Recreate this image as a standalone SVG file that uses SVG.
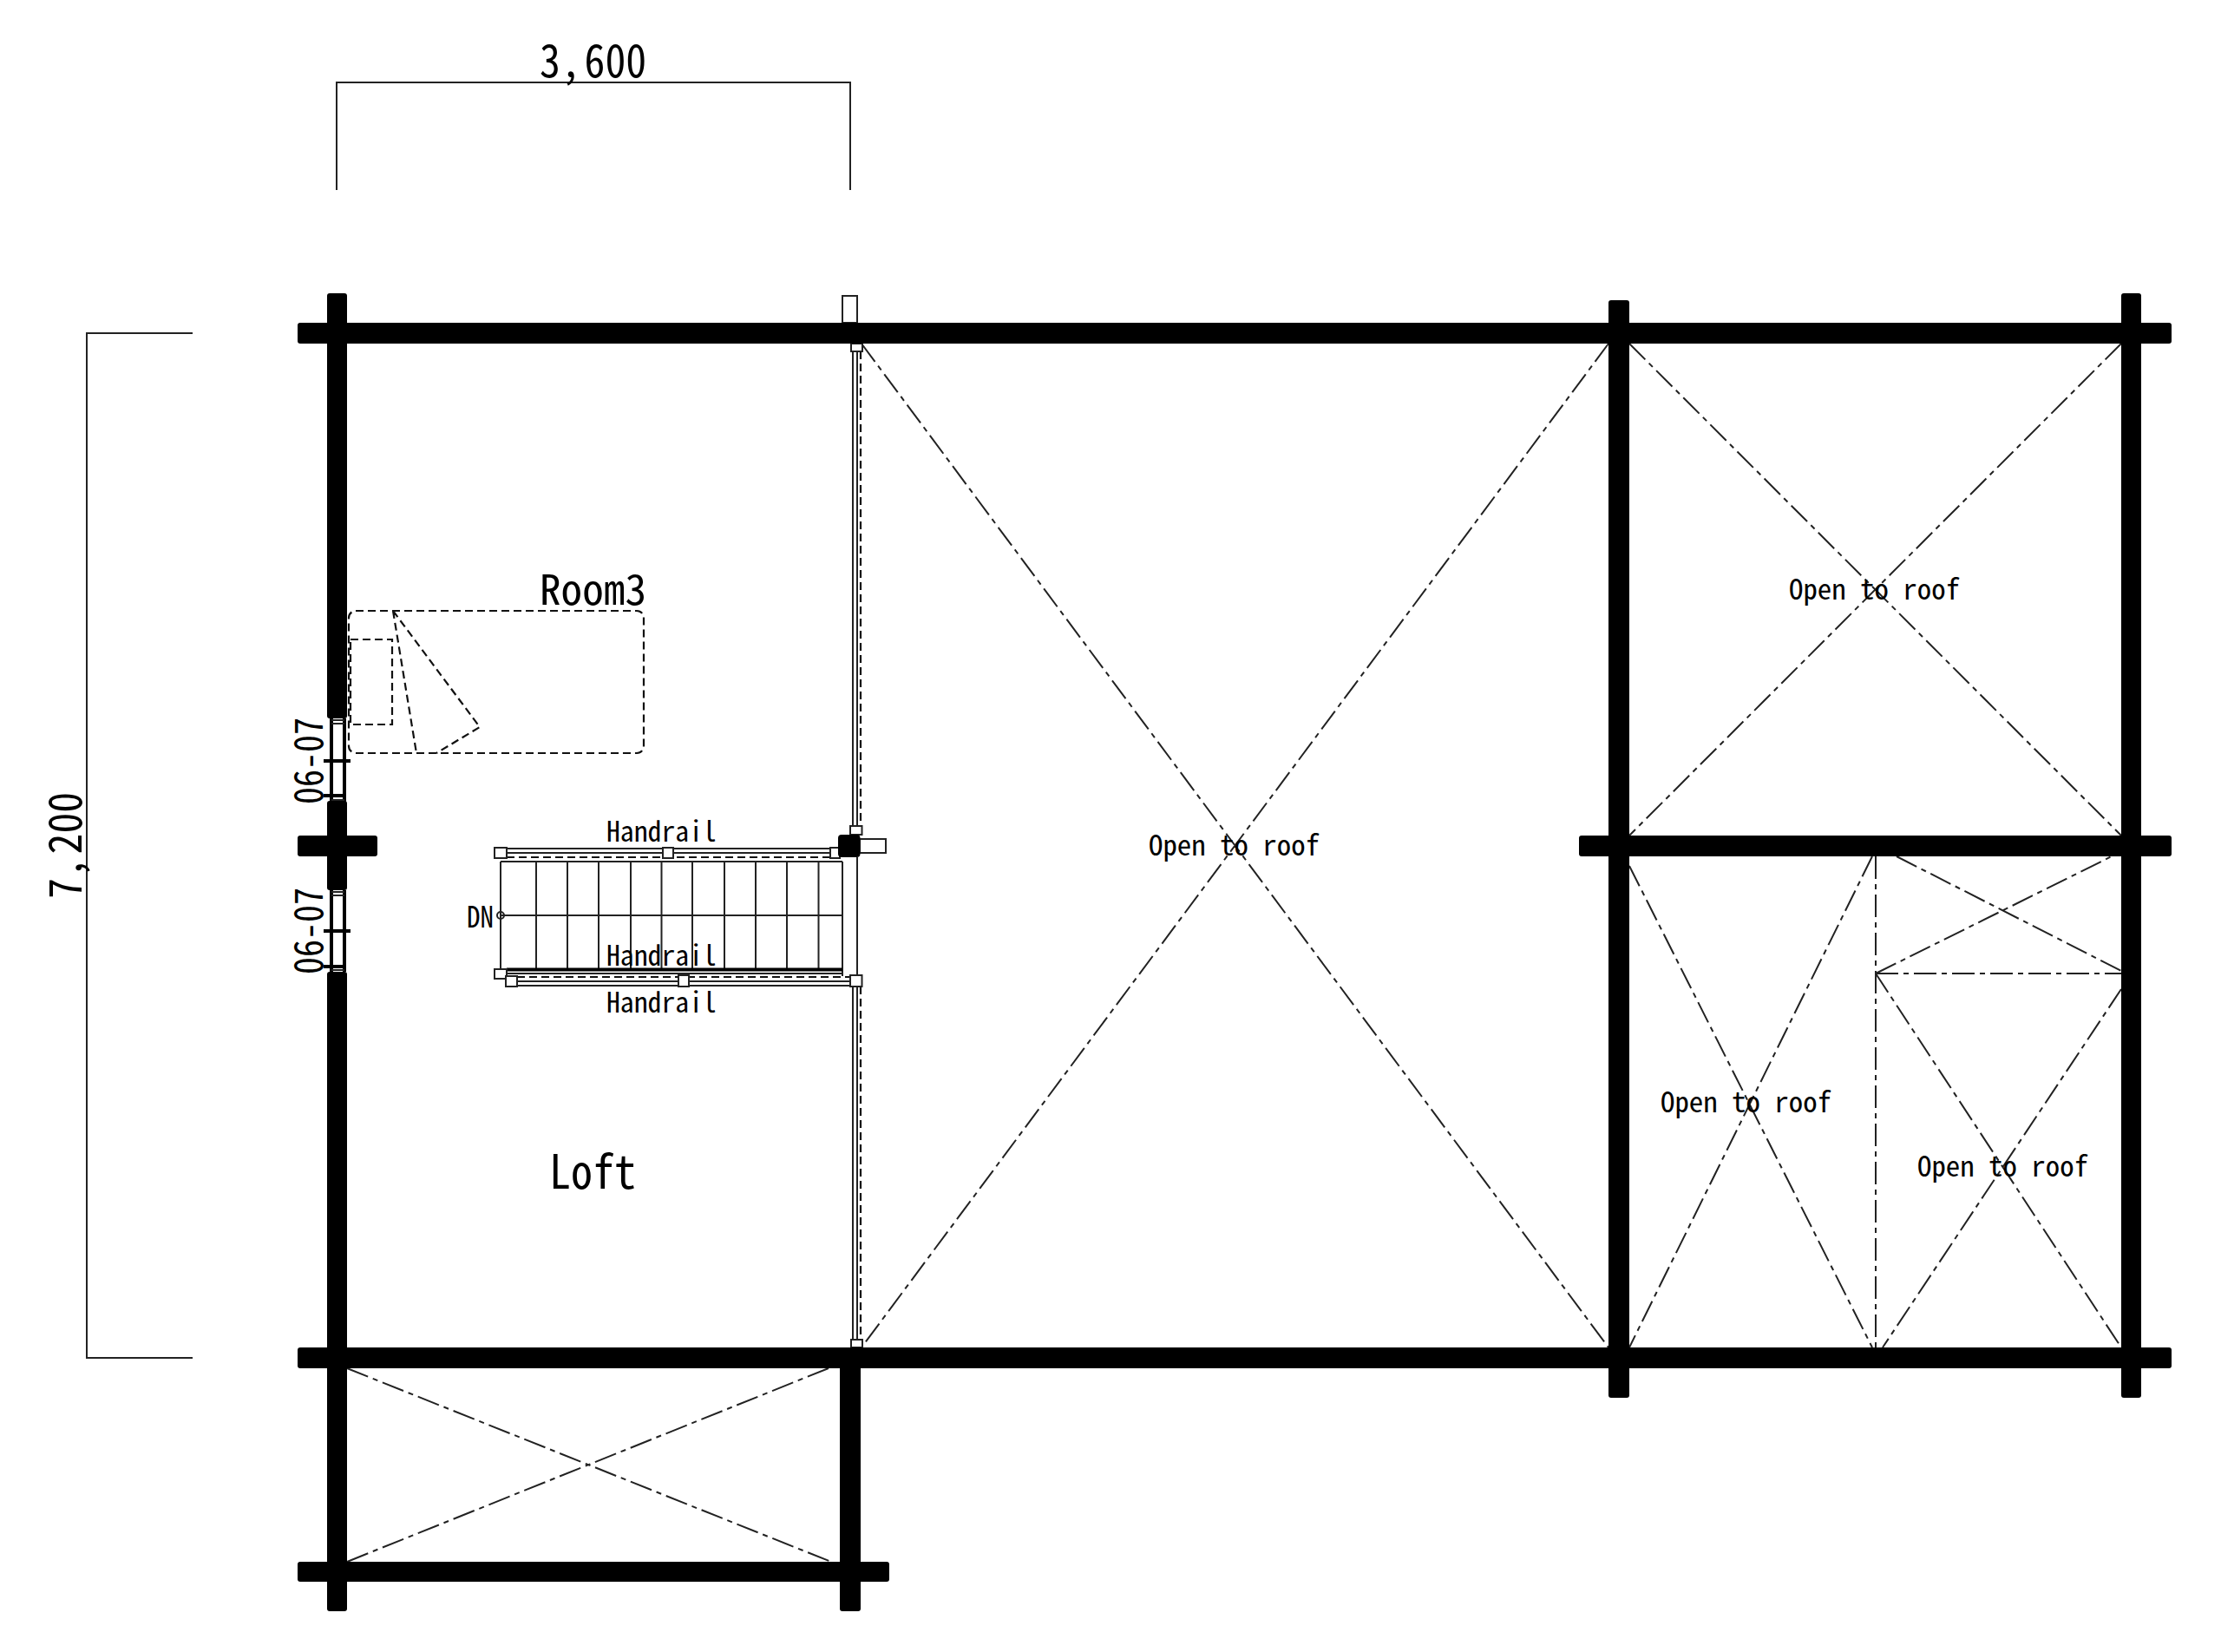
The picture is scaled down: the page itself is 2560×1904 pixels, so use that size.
<svg xmlns="http://www.w3.org/2000/svg" width="2560" height="1904" viewBox="0 0 2560 1904">
<style>
.w{fill:#000}
.t{font-family:"Noto Sans CJK JP","Liberation Mono",monospace;font-feature-settings:"hwid";fill:#000}
.l{stroke:#222;stroke-width:2;fill:none}
.b{stroke:#000;stroke-width:4;fill:none}
.d{stroke:#111;stroke-width:2.200;fill:none;stroke-dasharray:9 5}
.c{stroke:#222;stroke-width:2;fill:none;stroke-dasharray:26 6 6 6}
.p{stroke:#222;stroke-width:2;fill:#fff}
</style>
<rect width="2560" height="1904" fill="#fff"/>
<g id="dimensions" class="l">
<path d="M388 219V95H980V219"/>
<path d="M222 384H100V1565H222"/>
</g>
<g id="centerlines">
<path class="c" d="M993 396L1854 1553M1854 396L993 1553"/>
<path class="c" d="M1878 396L2445 963M2445 396L1878 963"/>
<path class="c" d="M1878 998L2158 1553M2158 987L1878 1553"/>
<path class="c" d="M2162 987V1553M2162 1122H2445"/>
<path class="c" d="M2162 1122L2440 984M2186 987L2445 1119"/>
<path class="c" d="M2162 1122L2445 1553M2445 1140L2170 1553"/>
<path class="c" d="M400 1577L958 1800M955 1577L400 1800"/>
</g>
<g id="bed">
<rect class="d" x="402" y="704" width="340" height="164" rx="8"/>
<rect class="d" x="404" y="737" width="48" height="98"/>
<path class="d" d="M453 704L480 868M453 704L553 838L503 868"/>
</g>
<g id="balcony-rail">
<path class="l" d="M983 405V952M988 405V962M983 1137V1544M988 1137V1544M988 988V1124"/>
<path class="d" d="M992 405V952M992 1137V1544"/>
<rect class="p" x="971" y="341" width="17" height="31"/>
<rect class="p" x="981" y="396" width="13" height="9"/>
<rect class="p" x="981" y="1544" width="13" height="9"/>
</g>
<g id="stairs">
<path class="l" d="M577 993V1117M618 993V1117M654 993V1117M690 993V1117M727 993V1117M762.500 993V1117M798 993V1117M835 993V1117M871 993V1117M907 993V1117M943.500 993V1117M971 993V1125M577 1055H971"/>
<path class="l" d="M577 978H966M577 983H966M577 993H971M584 1122H971M596 1131H985M596 1136H985"/>
<path class="d" d="M584 988H962M596 1126H985"/>
<path class="b" d="M584 1117.500H971"/>
<ellipse class="l" cx="577" cy="1055" rx="4" ry="4"/>
<rect class="p" x="570" y="977" width="14" height="12"/>
<rect class="p" x="764" y="977" width="12" height="12"/>
<rect class="p" x="957" y="977" width="11" height="12"/>
<rect class="p" x="570" y="1117" width="14" height="11"/>
<rect class="p" x="583" y="1125" width="13" height="12"/>
<rect class="p" x="782" y="1124" width="12" height="13"/>
<rect class="p" x="980" y="1124" width="13.500" height="13"/>
<rect class="p" x="980" y="952" width="13.500" height="10"/>
<rect class="p" x="991" y="967" width="30" height="16"/>
<rect class="w" x="966" y="962" width="25.500" height="26" rx="4"/>
</g>
<g id="walls">
<rect class="w" x="343" y="372" width="2160" height="24" rx="3"/>
<rect class="w" x="1820" y="963" width="683" height="24" rx="3"/>
<rect class="w" x="343" y="1553" width="2160" height="24" rx="3"/>
<rect class="w" x="343" y="1800" width="682" height="23" rx="3"/>
<rect class="w" x="343" y="963" width="92" height="24" rx="3"/>
<rect class="w" x="377" y="338" width="23" height="490" rx="3"/>
<rect class="w" x="377" y="923" width="23" height="103" rx="3"/>
<rect class="w" x="377" y="1120" width="23" height="737" rx="3"/>
<rect class="w" x="968" y="1553" width="24" height="304" rx="3"/>
<rect class="w" x="1854" y="346" width="24" height="1265" rx="3"/>
<rect class="w" x="2445" y="338" width="23" height="1273" rx="3"/>
</g>
<g id="window-1">
<path class="b" d="M382 828V924M397 828V924M373 877H404M373 917H397"/>
<path class="l" d="M382 830H397M382 834H397M382 922H397"/>
</g>
<g id="window-2">
<path class="b" d="M382 1026V1120M397 1026V1120M373 1073H404M373 1114H397"/>
<path class="l" d="M382 1028H397M382 1032H397M382 1118H397"/>
</g>
<g id="labels">
<text class="t" transform="translate(622 89) scale(.92 1)" x="0 26 56 82 108" font-size="52">3,600</text>
<text class="t" transform="translate(94 1036) rotate(-90) scale(.92 1)" x="0 26 56 82 108" font-size="52">7,200</text>
<text class="t" x="622" y="697" font-size="48" textLength="123" lengthAdjust="spacingAndGlyphs">Room3</text>
<text class="t" x="633" y="1370" font-size="54" textLength="100" lengthAdjust="spacingAndGlyphs">Loft</text>
<text class="t" transform="translate(372 927) rotate(-90)" font-size="45" textLength="100" lengthAdjust="spacingAndGlyphs">06-07</text>
<text class="t" transform="translate(372 1123) rotate(-90)" font-size="45" textLength="100" lengthAdjust="spacingAndGlyphs">06-07</text>
<text class="t" x="699" y="970" font-size="32" textLength="127" lengthAdjust="spacingAndGlyphs">Handrail</text>
<text class="t" x="699" y="1113" font-size="32" textLength="127" lengthAdjust="spacingAndGlyphs">Handrail</text>
<text class="t" x="699" y="1167" font-size="32" textLength="127" lengthAdjust="spacingAndGlyphs">Handrail</text>
<text class="t" x="538" y="1069" font-size="34" textLength="31" lengthAdjust="spacingAndGlyphs">DN</text>
<text class="t" x="1324" y="986" font-size="33" textLength="197" lengthAdjust="spacingAndGlyphs">Open to roof</text>
<text class="t" x="2062" y="691" font-size="33" textLength="197" lengthAdjust="spacingAndGlyphs">Open to roof</text>
<text class="t" x="1914" y="1282" font-size="33" textLength="197" lengthAdjust="spacingAndGlyphs">Open to roof</text>
<text class="t" x="2210" y="1356" font-size="33" textLength="197" lengthAdjust="spacingAndGlyphs">Open to roof</text>
</g>
</svg>
